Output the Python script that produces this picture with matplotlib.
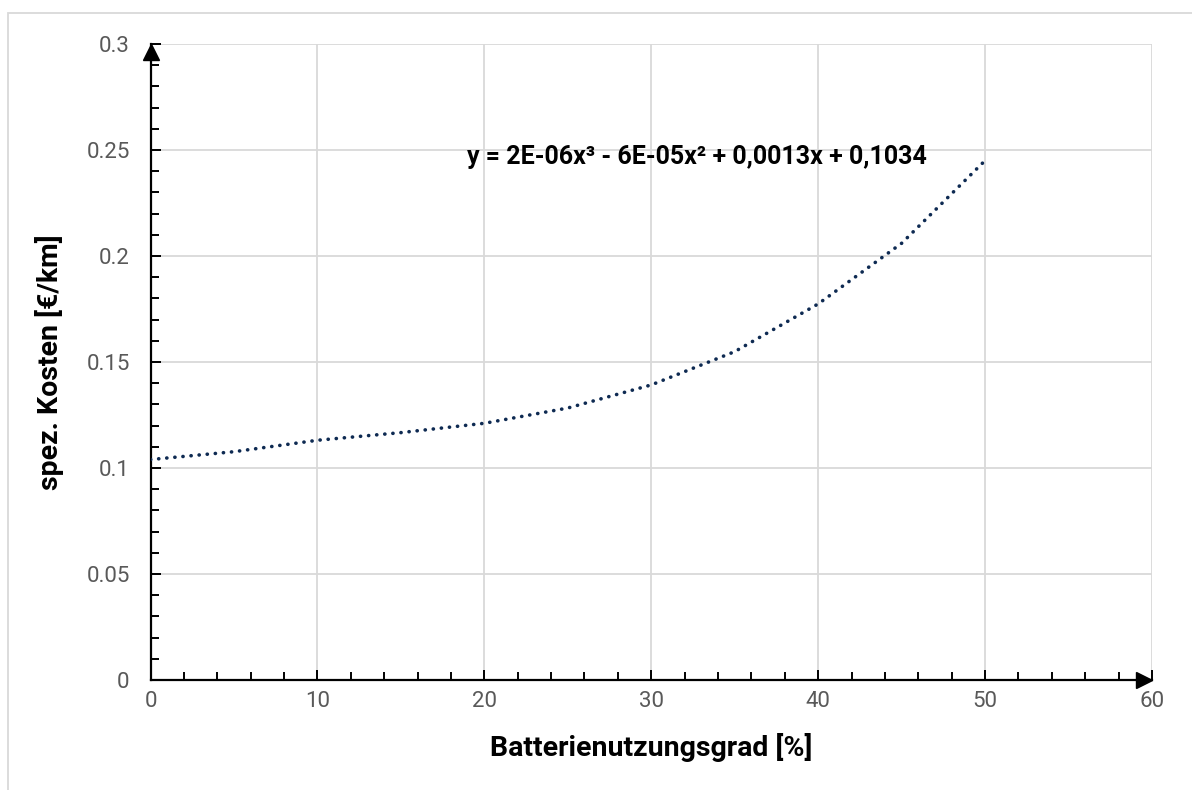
import matplotlib.pyplot as plt
from matplotlib.ticker import MultipleLocator
from matplotlib.patches import Rectangle
import matplotlib.transforms as mtransforms

plt.rcParams['font.family'] = ['Roboto', 'DejaVu Sans']

nutzung = [0, 5, 10, 15, 20, 25, 30, 35, 40, 45, 50]
kosten = [0.1040, 0.1077, 0.1131, 0.1167, 0.1211, 0.1283, 0.1392, 0.1549, 0.1774, 0.2060, 0.2450]

formel = "y = 2E-06x³ - 6E-05x² + 0,0013x + 0,1034"
x_label = "Batterienutzungsgrad [%]"
y_label = "spez. Kosten [€/km]"

fig = plt.figure(figsize=(11.92, 7.90), dpi=100)
ax = fig.add_axes([0.1263, 0.1392, 0.8401, 0.8051])

# light frame around the chart area
fig.patches.append(Rectangle((8 / 1192, -0.1), 1.2, 1 - 13 / 790 + 0.1,
                             transform=fig.transFigure, fill=False,
                             edgecolor='#d9d9d9', linewidth=1.3, zorder=0))

ax.plot(nutzung, kosten, color='#0e2a52', linewidth=2.6,
        linestyle=(0, (0.05, 2.2)), dash_capstyle='round', zorder=3)

ax.set_xlim(0, 60)
ax.set_ylim(0, 0.3)
ax.xaxis.set_major_locator(MultipleLocator(10))
ax.xaxis.set_minor_locator(MultipleLocator(2))
ax.yaxis.set_major_locator(MultipleLocator(0.05))
ax.yaxis.set_minor_locator(MultipleLocator(0.01))
ax.set_yticks([0, 0.05, 0.1, 0.15, 0.2, 0.25, 0.3])
ax.set_yticklabels(['0', '0.05', '0.1', '0.15', '0.2', '0.25', '0.3'])

ax.grid(True, which='major', color='#d9d9d9', linewidth=1.3, zorder=0)
ax.set_axisbelow(True)

for s in ['top', 'right']:
    ax.spines[s].set_visible(False)
for s in ['left', 'bottom']:
    ax.spines[s].set_linewidth(1.6)
    ax.spines[s].set_color('black')

ax.tick_params(which='major', direction='in', length=7, width=1.4,
               labelsize=16, labelcolor='#595959')
ax.tick_params(which='minor', direction='in', length=5.5, width=1.4)
ax.tick_params(axis='x', which='major', pad=8)
ax.tick_params(axis='y', which='major', pad=15)

# arrow heads at the axis ends
up = mtransforms.offset_copy(ax.transAxes, fig=fig, x=0, y=-8, units='dots')
ax.plot([0], [1], marker='^', markersize=11, color='black', transform=up, clip_on=False, zorder=5)
right = mtransforms.offset_copy(ax.transAxes, fig=fig, x=-8, y=0, units='dots')
ax.plot([1], [0], marker='>', markersize=11, color='black', transform=right, clip_on=False, zorder=5)

ax.text(18.95, 0.2467, formel, fontsize=18, fontweight='bold', ha='left', va='center', zorder=4)

ax.set_xlabel(x_label, fontsize=20.5, fontweight='bold', labelpad=15)
ax.set_ylabel(y_label, fontsize=20.5, fontweight='bold', labelpad=16)

fig.savefig('out.png', dpi=100)
